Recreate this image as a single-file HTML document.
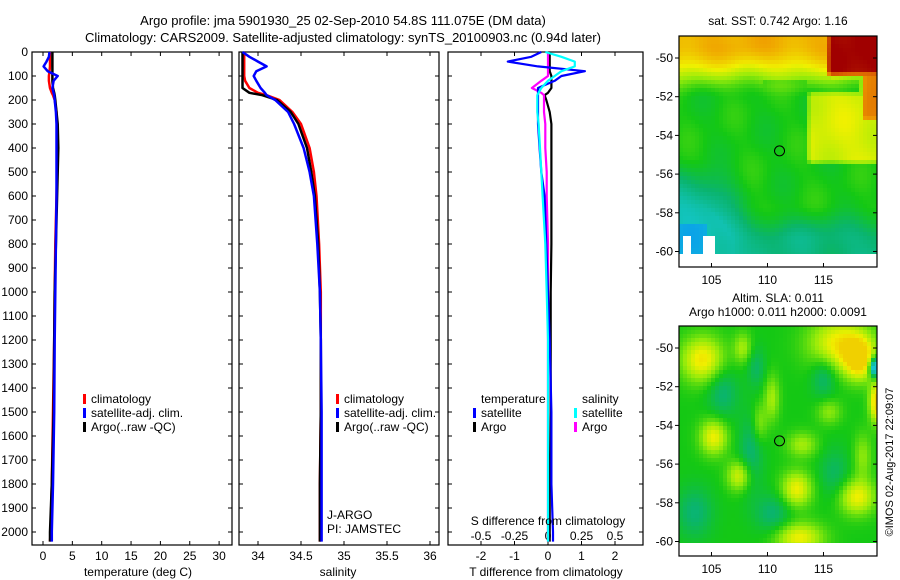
<!DOCTYPE html>
<html><head><meta charset="utf-8"><style>
html,body{margin:0;padding:0;background:#fff;}
svg{display:block;font-family:"Liberation Sans",sans-serif;font-size:12px;}
</style></head><body>
<svg id="chart" width="900" height="580">
<text x="343" y="25" text-anchor="middle" font-size="13">Argo profile: jma 5901930_25 02-Sep-2010 54.8S 111.075E (DM data)</text>
<text x="343" y="42" text-anchor="middle" font-size="13">Climatology: CARS2009. Satellite-adjusted climatology: synTS_20100903.nc (0.94d later)</text>
<g id="p1"></g>
<g id="p2"></g>
<g id="p3"></g>
<g id="m1"></g>
<g id="m2"></g>
<text x="138" y="576" text-anchor="middle">temperature (deg C)</text>
<text x="338" y="576" text-anchor="middle">salinity</text>
<text x="546" y="576" text-anchor="middle">T difference from climatology</text>
<text x="548" y="525" text-anchor="middle">S difference from climatology</text>
<text x="778" y="25" text-anchor="middle">sat. SST: 0.742 Argo: 1.16</text>
<text x="778" y="302" text-anchor="middle">Altim. SLA: 0.011</text>
<text x="778" y="316" text-anchor="middle">Argo h1000: 0.011 h2000: 0.0091</text>
<text x="893" y="462" text-anchor="middle" transform="rotate(-90 893 462)" font-size="11">©IMOS 02-Aug-2017 22:09:07</text>
<text x="327" y="519">J-ARGO</text>
<text x="327" y="533">PI: JAMSTEC</text>
</svg>
<script>
const NS="http://www.w3.org/2000/svg";
const depths=[0,20,40,60,80,100,120,150,170,180,200,250,300,400,500,600,800,1000,1200,1500,1800,2000,2040];
const tempClim=[1.2,1.2,1.2,1.2,1.1,1.0,1.0,1.2,1.5,1.7,2.0,2.3,2.4,2.5,2.4,2.3,2.1,2.0,1.9,1.7,1.5,1.3,1.2];
const tempSat=[1.1,1.0,0.6,0.1,0.8,2.5,1.8,1.6,1.8,1.9,2.0,2.2,2.3,2.3,2.3,2.3,2.2,2.1,2.0,1.9,1.7,1.5,1.5];
const tempArgo=[1.6,1.6,1.6,1.6,1.6,1.6,1.6,1.7,1.9,2.0,2.1,2.3,2.5,2.6,2.5,2.4,2.2,2.0,1.9,1.8,1.5,1.2,1.2];
const salClim=[33.84,33.84,33.84,33.84,33.84,33.84,33.85,33.9,34.0,34.1,34.25,34.4,34.5,34.6,34.65,34.68,34.71,34.73,34.73,34.73,34.72,34.72,34.72];
const salSat=[33.82,33.9,34.0,34.1,33.98,33.95,33.98,34.03,34.08,34.1,34.2,34.35,34.42,34.53,34.6,34.65,34.69,34.72,34.73,34.74,34.74,34.74,34.74];
const salArgo=[33.82,33.82,33.82,33.82,33.82,33.82,33.82,33.82,33.9,34.05,34.22,34.38,34.47,34.57,34.62,34.66,34.7,34.72,34.73,34.73,34.72,34.72,34.72];
const tDiffSat=[-0.2,-0.5,-1.2,-0.3,1.1,0.4,0.2,-0.3,-0.3,-0.3,-0.3,-0.3,-0.3,-0.25,-0.2,-0.1,-0.05,0.0,0.05,0.1,0.1,0.15,0.15];
const tDiffArgo=[0.05,0.05,0.05,0.05,0.05,0.1,0.1,0.1,0.0,-0.1,-0.05,0.05,0.1,0.1,0.1,0.1,0.1,0.08,0.08,0.08,0.05,0.05,0.05];
const sDiffSat=[-0.02,0.1,0.2,0.2,0.1,0.05,0.0,-0.05,-0.07,-0.08,-0.08,-0.08,-0.07,-0.06,-0.05,-0.04,-0.02,-0.01,0.0,0.0,0.0,0.0,0.0];
const sDiffArgo=[0.0,0.0,0.0,0.0,0.0,0.0,-0.05,-0.12,-0.05,-0.03,-0.03,-0.03,-0.02,-0.02,-0.01,-0.01,0.0,0.0,0.0,0.0,0.0,0.0,0.0];
const depthTicks=[0,100,200,300,400,500,600,700,800,900,1000,1100,1200,1300,1400,1500,1600,1700,1800,1900,2000];
const tempTicks=[0,5,10,15,20,25,30];
const salTicks=[34,34.5,35,35.5,36];
const tDiffTicks=[-2,-1,0,1,2];
const sDiffTicks=[-0.5,-0.25,0,0.25,0.5];
const latTicks=[-50,-52,-54,-56,-58,-60];
const lonTicks=[105,110,115];

const Y=d=>52+d*0.24;
function el(p,t,a){const e=document.createElementNS(NS,t);for(const k in a)e.setAttribute(k,a[k]);p.appendChild(e);return e;}
function frame(g,x0,x1,y0,y1,name){const r=el(g,'rect',{x:x0,y:y0,width:x1-x0,height:y1-y0,fill:'none',stroke:'#000','stroke-width':1.2});}
function depthAxis(g,x0,x1,labels){
 depthTicks.forEach(d=>{const y=Y(d);
  el(g,'line',{x1:x0,x2:x0+4,y1:y,y2:y,stroke:'#000'});el(g,'line',{x1:x1-4,x2:x1,y1:y,y2:y,stroke:'#000'});
  if(labels){const t=el(g,'text',{x:x0-4,y:y+4,'text-anchor':'end'});t.textContent=d;
   
   }});
}
function xAxis(g,ticks,X,yb,ylab,fmt){ticks.forEach(v=>{const x=X(v);
 el(g,'line',{x1:x,x2:x,y1:yb,y2:yb-4,stroke:'#000'});el(g,'line',{x1:x,x2:x,y1:52,y2:56,stroke:'#000'});
 const t=el(g,'text',{x:x,y:ylab,'text-anchor':'middle'});t.textContent=fmt?fmt(v):v;
 
 });}
function profile(g,vals,X,col,name,w){
 let d='';vals.forEach((v,i)=>{d+=(i?'L':'M')+X(v).toFixed(1)+' '+Y(depths[i]).toFixed(1);});
 const p=el(g,'path',{d:d,fill:'none',stroke:col,'stroke-width':w||2.5,'stroke-linejoin':'round'});
 
 }
function legend(g,x,y,items){items.forEach((it,i)=>{const yy=y+i*14;
 el(g,'rect',{x:x,y:yy-9,width:3,height:10,fill:it[1]});
 const t=el(g,'text',{x:x+8,y:yy});t.textContent=it[0];
 
 });}

const p1=document.getElementById('p1');
const XT=v=>43+v*5.87;
frame(p1,32,232,52,545,'temperature-plot-frame');depthAxis(p1,32,232,true);xAxis(p1,tempTicks,XT,545,560);
profile(p1,tempClim,XT,'#f00','temp-climatology-line');profile(p1,tempArgo,XT,'#000','temp-argo-line');profile(p1,tempSat,XT,'#00f','temp-satellite-line');
legend(p1,83,403,[['climatology','#f00'],['satellite-adj. clim.','#00f'],['Argo(..raw -QC)','#000']]);
const p2=document.getElementById('p2');
const XS=v=>258+(v-34)*86;
frame(p2,239,439,52,545,'salinity-plot-frame');depthAxis(p2,239,439,false);xAxis(p2,salTicks,XS,545,560);
profile(p2,salClim,XS,'#f00','sal-climatology-line');profile(p2,salArgo,XS,'#000','sal-argo-line');profile(p2,salSat,XS,'#00f','sal-satellite-line');
legend(p2,336,403,[['climatology','#f00'],['satellite-adj. clim.','#00f'],['Argo(..raw -QC)','#000']]);
const p3=document.getElementById('p3');
const XD=v=>548+v*33.5, XSD=v=>548+v*134;
frame(p3,448,643,52,545,'difference-plot-frame');depthAxis(p3,448,643,false);xAxis(p3,tDiffTicks,XD,545,560);
sDiffTicks.forEach(v=>{const t=el(p3,'text',{x:XSD(v),y:540,'text-anchor':'middle'});t.textContent=v;
 
 });
profile(p3,tDiffArgo,XD,'#000','t-diff-argo-line',2.2);profile(p3,sDiffArgo,XSD,'#f0f','s-diff-argo-line',2.2);
profile(p3,tDiffSat,XD,'#00f','t-diff-satellite-line',2.2);profile(p3,sDiffSat,XSD,'#0ff','s-diff-satellite-line',2.2);
const lt=el(p3,'text',{x:481,y:403});lt.textContent='temperature';


const ls=el(p3,'text',{x:582,y:403});ls.textContent='salinity';


legend(p3,473,417,[['satellite','#00f'],['Argo','#000']]);
legend(p3,574,417,[['satellite','#0ff'],['Argo','#f0f']]);

const stops=[[0.15,[0,120,255]],[0.3,[20,200,210]],[0.4,[10,180,110]],[0.47,[20,200,20]],[0.55,[150,235,10]],[0.62,[240,240,0]],[0.72,[240,160,0]],[0.82,[220,100,0]],[0.95,[160,0,0]]];
function col(v){if(v<=stops[0][0])return stops[0][1];for(let i=1;i<stops.length;i++){if(v<=stops[i][0]){const a=stops[i-1],b=stops[i],f=(v-a[0])/(b[0]-a[0]);return a[1].map((c,k)=>Math.round(c+(b[1][k]-c)*f));}}return stops[stops.length-1][1];}
function sm(e0,e1,x){const t=Math.max(0,Math.min(1,(x-e0)/(e1-e0)));return t*t*(3-2*t);}
function map(gid,top,bot,imgBot,latY0,field,name){
 const g=document.getElementById(gid);const L=679,R=877,c=4;
 for(let y=top;y<imgBot;y+=c){for(let x=L;x<R;x+=c){
  const lon=102.1+(x-L+2)/11.2, lat=-50-(y+2-latY0)/19.35;
  const v=field(lon,lat);
  if(v===null)continue;
  const cc=col(v);el(g,'rect',{x:x,y:y,width:Math.min(c,R-x),height:Math.min(c,imgBot-y),fill:'rgb('+cc.join(',')+')'});}}
 frame(g,L,R,top,bot,name+'-frame');
 latTicks.forEach(l=>{const y=latY0+(-50-l)*19.35;el(g,'line',{x1:L,x2:L-4,y1:y,y2:y,stroke:'#000'});el(g,'line',{x1:R,x2:R-4,y1:y,y2:y,stroke:'#000'});
  const t=el(g,'text',{x:L-6,y:y+4,'text-anchor':'end'});t.textContent=l;
  
  });
 lonTicks.forEach(l=>{const x=L+(l-102.1)*11.2;el(g,'line',{x1:x,x2:x,y1:bot,y2:bot-4,stroke:'#000'});
  const t=el(g,'text',{x:x,y:bot+17,'text-anchor':'middle'});t.textContent=l;
  
  });
 const ax=L+(111.075-102.1)*11.2, ay=latY0+4.8*19.35;
 const cir=el(g,'circle',{cx:ax,cy:ay,r:5,fill:'none',stroke:'#000'});
 
 
}
function n(a,b){return 0.012*Math.sin(a*1.3+b*0.7)+0.008*Math.sin(a*0.6-b*1.9);}
map('m1',36,267,254,58,(lon,lat)=>{
 if(lat<-59.3&&lon<105.2&&!(lon>103.2&&lon<104.1)&&!(lon<102.5))return null;
 let v=0.47+0.23*sm(-52.2,-49.3,lat);
 v=Math.max(v,0.6*sm(112.2,114,lon)*sm(-56.2,-55.2,lat)*sm(-51,-52,lat));
 if(lat<-51.2&&lat>-52.6&&lon>109.5&&lon<113.5)v=Math.min(v,0.5);
 v=Math.max(v,0.95*sm(114.2,115.8,lon)*sm(-51.6,-50.6,lat));
 v=Math.max(v,0.78*sm(117.5,118.8,lon)*sm(-53.8,-53,lat));
 const cy=sm(-55,-58,lat)*sm(109,104,lon)+sm(-57.5,-59.5,lat)*0.6;
 v-=Math.min(1,cy)*0.14;
 if(lat<-58.5&&lon<104.5)v-=0.08;
 return v+n(lon,lat);
},'sst-map');
const blobs=[[104.2,-50.6,1.1,1.4,0.9],[116.5,-49.8,1.1,2,1],[118.2,-50.6,1.3,1,0.8],[105.2,-54.6,1,0.9,0.7],[107.5,-56.6,0.9,0.8,0.6],[112.6,-57.3,1,1,0.7],[118,-57.7,1,1.2,0.7],[112.8,-59.8,1,1.6,0.6],[110.4,-52.6,0.6,0.5,0.9],[109.3,-53.9,0.5,0.5,0.8],[113.1,-55,0.6,1,0.5],[107.8,-50,0.6,0.6,0.6],[119.8,-52.8,1.4,0.5,0.8],[115.5,-53.3,0.5,0.8,0.5],[118.5,-55.6,0.5,0.6,0.9],
 [106,-52.3,-0.5,1,1],[108.5,-55.5,-0.5,0.8,1.5],[103.5,-58.5,-0.5,1.2,1],[110.5,-58.6,-0.5,1.2,0.8],[115,-51.5,-0.5,0.8,0.8],[116,-56.5,-0.4,1,1],[109,-51,-0.4,0.6,0.8]];
map('m2',326,556,543,348,(lon,lat)=>{
 let v=0.47;
 blobs.forEach(b=>{const d=((lon-b[0])/(b[3]*1.35))**2+((lat-b[1])/(b[4]*1.3))**2;v+=0.15*b[2]*Math.exp(-d);});
 const db=((lon-119.6)/0.5)**2+((lat+51)/0.5)**2;v-=0.3*Math.exp(-db);
 return Math.min(v,0.66);
},'sla-map');
</script>
</body></html>
